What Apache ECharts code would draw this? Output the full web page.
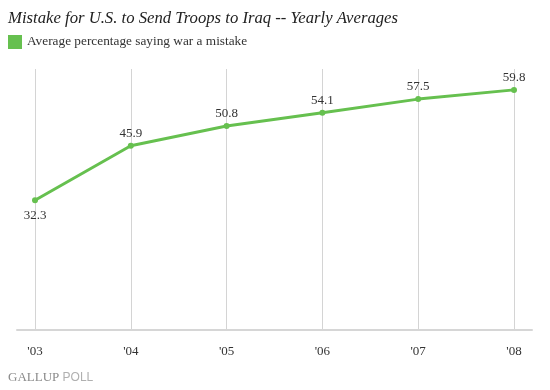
<!DOCTYPE html>
<html><head><meta charset="utf-8">
<script src="https://cdn.jsdelivr.net/npm/echarts@6/dist/echarts.min.js"></script>
<style>html,body{margin:0;padding:0;background:#fff}#c{width:550px;height:390px}</style>
</head><body><div id="c"></div>
<script>
var categories = ["'03", "'04", "'05", "'06", "'07", "'08"];
var values = [32.3, 45.9, 50.8, 54.1, 57.5, 59.8];
var seriesName = "Average percentage saying war a mistake";
var titleText = "Mistake for U.S. to Send Troops to Iraq -- Yearly Averages";

var serif = "Liberation Serif";
var chart = echarts.init(document.getElementById('c'));
chart.setOption({
  animation: false,
  backgroundColor: '#fff',
  title: { text: titleText, left: 3, top: 5,
    textStyle: { fontFamily: serif, fontStyle: 'italic', fontWeight: 'normal', fontSize: 16.7, color: '#222' } },
  legend: { left: 3, top: 30, itemWidth: 14, itemHeight: 14, itemGap: 6, icon: 'rect',
    data: [seriesName],
    textStyle: { fontFamily: serif, fontSize: 13.3, color: '#333' } },
  grid: [
    { left: 35, right: 36, top: 69, bottom: 60 },
    { left: 17, right: 18, top: 69, bottom: 60 }
  ],
  xAxis: [
    { type: 'category', gridIndex: 0, data: categories, boundaryGap: false,
      axisLine: { show: false }, axisTick: { show: false },
      axisLabel: { margin: 15, fontFamily: serif, fontSize: 13, color: '#333' },
      splitLine: { show: true, lineStyle: { color: '#d4d4d4', width: 1 } } },
    { type: 'value', gridIndex: 1, min: 0, max: 1, position: 'bottom',
      axisLine: { show: true, onZero: false, lineStyle: { color: '#d6d6d6', width: 2 } },
      axisTick: { show: false }, axisLabel: { show: false }, splitLine: { show: false } }
  ],
  yAxis: [
    { type: 'value', gridIndex: 0, min: 0, max: 65, show: false, splitLine: { show: false } },
    { type: 'value', gridIndex: 1, min: 0, max: 1, show: false, splitLine: { show: false } }
  ],
  series: [{
    name: seriesName, type: 'line', xAxisIndex: 0, yAxisIndex: 0,
    data: values.map(function (v, i) {
      return { value: v, label: { position: i === 0 ? 'bottom' : 'top', distance: i === 0 ? 6 : 3 } };
    }),
    itemStyle: { color: '#66c04f' },
    lineStyle: { color: '#66c04f', width: 3 },
    symbol: 'circle', symbolSize: 6,
    label: { show: true, fontFamily: serif, fontSize: 13, color: '#333',
      formatter: function (p) { return p.value.toFixed(1); } }
  }],
  graphic: [{
    type: 'text', left: 8, top: 371,
    style: { text: '{a|GALLUP} {b|POLL}',
      rich: { a: { fontFamily: serif, fontSize: 13, fill: '#8a8a8a', color: '#8a8a8a' },
              b: { fontFamily: 'Liberation Sans', fontSize: 12, fill: '#b0b0b0', color: '#b0b0b0' } } }
  }]
});
</script></body></html>
